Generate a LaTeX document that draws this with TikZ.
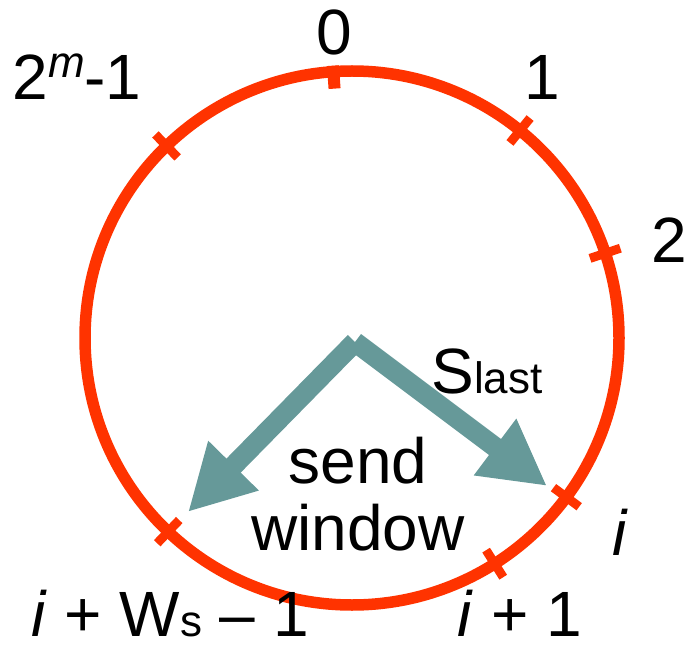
\documentclass[tikz,border=0pt]{standalone}
\usepackage{fontspec}
\setmainfont{Liberation Sans}
\usetikzlibrary{arrows.meta}
\definecolor{ring}{HTML}{FF3300}
\definecolor{pointer}{HTML}{669999}
\newcommand{\subsz}{\fontsize{44}{44}\selectfont}

\begin{document}
\begin{tikzpicture}[x=1pt, y=1pt,
  lbl/.style={anchor=base, inner sep=0pt, font=\fontsize{64}{67}\selectfont},
  ringtick/.style={ring, line width=9pt},
  ptr/.style={pointer, line width=20pt, -{Triangle[length=65pt, width=66pt]}}
]
  \useasboundingbox (0,0) rectangle (688,649);
  \coordinate (c) at (352,311);
  \draw[ring, line width=11.5pt] (c) circle[radius=267];

  % sequence number marks
  \draw[ringtick, line width=12pt, shift={(c)}] (94:250) -- (94:273);
  \foreach \a in {134,51,18.5,-36.6,-57.7,-133.5}
    \draw[ringtick, shift={(c)}] (\a:251) -- (\a:283);

  \node[lbl] (n0) at (334,594) {0};
  \node[lbl] (nmax) at (77,549) {2\raisebox{22pt}{\subsz\itshape m}-1};
  \node[lbl] (n1) at (542,549) {1};
  \node[lbl] (n2) at (669,386) {2};
  \node[lbl] (ni) at (620,94) {\itshape i};
  \node[lbl] (nnext) at (520,13) {\textit{i} + 1};
  \node[lbl] (nlast) at (170,13) {\textit{i} + W{\subsz s} -- 1};

  % send window pointers
  \coordinate (apex) at (355,307);
  \coordinate (tipL) at (188,137);
  \coordinate (tipR) at (547,163);
  \draw[ptr] (apex) -- (tipL);
  \draw[ptr] (apex) -- (tipR);

  \node[lbl] (slast) at (487,256) {S{\subsz last}};
  \node[lbl, align=center] (win) at (358,99) {send\\window};
\end{tikzpicture}
\end{document}
